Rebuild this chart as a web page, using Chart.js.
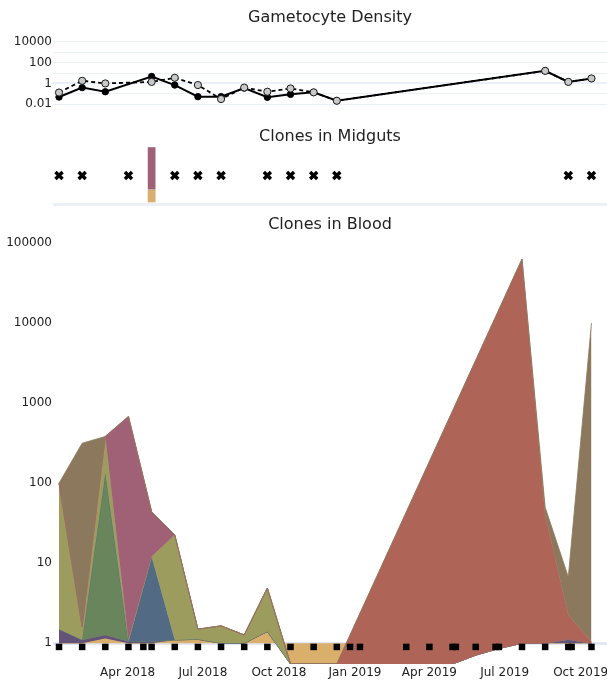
<!DOCTYPE html>
<html>
<head>
<meta charset="utf-8">
<script src="https://cdn.jsdelivr.net/npm/chart.js@4.4.1/dist/chart.umd.min.js"></script>
<style>
  html, body { margin: 0; padding: 0; background: #ffffff; }
  #wrap { position: relative; width: 607px; height: 684px; overflow: hidden; }
  #wrap canvas { position: absolute; left: 0; }
</style>
</head>
<body>
<div id="wrap">
  <canvas id="gam" width="607" height="110" style="top:0px"></canvas>
  <canvas id="gut" width="607" height="96" style="top:110px"></canvas>
  <canvas id="blood" width="607" height="478" style="top:206px"></canvas>
</div>
<script>
// ---------------- data ----------------

// Gametocyte density per visit (solid = filled markers, dashed = open markers)
const gamDates = ['2018-01-08','2018-02-05','2018-03-05','2018-04-30','2018-05-28','2018-06-25',
                  '2018-07-23','2018-08-20','2018-09-17','2018-10-15','2018-11-12','2018-12-10',
                  '2019-08-19','2019-09-16','2019-10-14'];
const gamSolid  = [0.05, 0.4, 0.16, 4.6, 0.7, 0.054, 0.054, 0.36, 0.047, 0.09, 0.14, 0.022, 16, 1.4, 3.0];
const gamDashed = [0.135, 1.8, 1.0, 1.4, 3.5, 0.7, 0.032, 0.4, 0.16, 0.33, 0.14, 0.022, 16, 1.4, 3.0];
const gamTicks      = [0.01, 0.1, 1, 10, 100, 1000, 10000];
const gamTickLabels = ['0.01', '', '1', '', '100', '', '10000'];

// Midgut results: visits with no clones, and the one positive visit with clone shares
const gutNegativeDates = ['2018-01-08','2018-02-05','2018-04-02','2018-05-28','2018-06-25','2018-07-23',
                          '2018-09-17','2018-10-15','2018-11-12','2018-12-10','2019-09-16','2019-10-14'];
const gutPositiveDate = '2018-04-30';
const gutShareTan   = 0.25;
const gutShareMauve = 0.75;

// Blood samples and clone densities (null = no clone data for that sample)
const bloodDates = ['2018-01-08','2018-02-05','2018-03-05','2018-04-02','2018-04-20','2018-04-30',
                    '2018-05-28','2018-06-25','2018-07-23','2018-08-20','2018-09-17','2018-10-15',
                    '2018-11-12','2018-12-10','2018-12-26','2019-01-07','2019-03-04','2019-04-01',
                    '2019-04-29','2019-05-03','2019-05-27','2019-06-20','2019-06-24','2019-07-22',
                    '2019-08-19','2019-09-16','2019-09-20','2019-10-14'];
const cloneTan    = [1.0, 1.0, 1.15, 1.0, null, 1.0, 1.1, 1.12, 1.0, 1.0, 1.4, 0, 0, 0,
                     0, 0, 0, 0, 0, null, 0.71, null, 0.86, 1.0, 1.0, 1.0, null, 1.0];
const clonePurple = [0.5, 0.1, 0.12, 0.05, null, 0.05, 0, 0, 0, 0, 0, 0, 0, 0,
                     0, 0, 0, 0, 0, null, 0, null, 0, 0, 0, 0.12, null, 0];
const cloneGreen  = [0, 0, 132, 0, null, 0, 0, 0, 0, 0, 0, 0, 0, 0,
                     0, 0, 0, 0, 0, null, 0, null, 0, 0, 0, 0, null, 0];
const cloneBlue   = [0, 0, 0, 0, null, 11, 0, 0, 0, 0, 0, 0, 0, 0,
                     0, 0, 0, 0, 0, null, 0, null, 0, 0, 0, 0, null, 0];
const cloneOlive  = [98.5, 0.5, 250, 0.05, null, 0, 21.5, 0.38, 0.65, 0.27, 3.5, 0, 0, 0,
                     0, 0, 0, 0, 0, null, 0, null, 0, 0, 0, 0, null, 0];
const cloneMauve  = [0, 0, 0, 679, null, 32, 0, 0, 0, 0, 0, 0, 0, 0,
                     0, 0, 0, 0, 0, null, 0, null, 0, 0, 0, 0, null, 0];
const cloneRed    = [0, 0, 0, 0, null, 0, 0, 0, 0, 0, 0, 0, 0, 0,
                     null, null, null, null, null, null, null, null, null, 63000, 39, 1.13, null, 0.05];
const cloneBrown  = [0, 314, 0, 0, null, 0, 0, 0, 0, 0, 0, 0, 0, 0,
                     null, null, null, null, null, null, null, null, null, 0, 10, 4.5, null, 10000];
const bloodTicks      = [1, 10, 100, 1000, 10000, 100000];
const bloodTickLabels = ['1', '10', '100', '1000', '10000', '100000'];

const monthTickDates  = ['2018-04-01','2018-07-01','2018-10-01','2019-01-01','2019-04-01','2019-07-01','2019-10-01'];
const monthTickLabels = ['Apr 2018','Jul 2018','Oct 2018','Jan 2019','Apr 2019','Jul 2019','Oct 2019'];

// ---------------- helpers & styles ----------------
const FONT = 'DejaVu Sans';
const INK = '#222222';
const GRID = '#EBF0F8';
const COLORS = {
  tan:    'rgb(217, 175, 107)',
  purple: 'rgb(98, 83, 119)',
  green:  'rgb(104, 133, 92)',
  blue:   'rgb(82, 106, 131)',
  olive:  'rgb(156, 156, 94)',
  mauve:  'rgb(160, 97, 119)',
  red:    'rgb(175, 100, 88)',
  brown:  'rgb(140, 120, 93)'
};

const DAY0 = Date.parse('2018-01-01');
const dayOf = s => (Date.parse(s) - DAY0) / 864e5;
const X_MIN = dayOf('2018-01-01') - 0.27;
const X_MAX = dayOf('2019-11-01') + 0.8;

Chart.defaults.font.family = FONT;
Chart.defaults.color = INK;

const common = {
  responsive: false,
  animation: false,
  devicePixelRatio: 1,
  events: [],
  layout: { padding: 0, autoPadding: false }
};

function titleOpts(text, padTop, padBottom) {
  return {
    display: true, text, fullSize: false, color: INK,
    font: { family: FONT, size: 16, weight: 'normal' },
    padding: { top: padTop, bottom: padBottom }
  };
}

function fixLeft(s) {
  s.width = 53;
  s.paddingTop = 0; s.paddingBottom = 0; s.paddingLeft = 0; s.paddingRight = 0;
}

const hiddenX = { type: 'linear', display: false, offset: false, min: X_MIN, max: X_MAX, bounds: 'data' };

// ---------------- Gametocyte Density ----------------
const gamDays = gamDates.map(dayOf);
new Chart(document.getElementById('gam'), {
  type: 'line',
  data: {
    datasets: [
      {
        data: gamDays.map((x, i) => ({ x, y: gamSolid[i] })),
        borderColor: '#000', borderWidth: 2, fill: false,
        pointRadius: 3.2, pointBackgroundColor: '#000', pointBorderColor: '#000', pointBorderWidth: 1
      },
      {
        data: gamDays.map((x, i) => ({ x, y: gamDashed[i] })),
        borderColor: '#000', borderWidth: 1.8, borderDash: [4, 3], fill: false, order: -1,
        pointRadius: 3.6, pointBackgroundColor: '#c8c8c8', pointBorderColor: '#1a1a1a', pointBorderWidth: 1
      }
    ]
  },
  options: Object.assign({}, common, {
    plugins: { legend: { display: false }, tooltip: { enabled: false },
               title: titleOpts('Gametocyte Density', 8.4, 8.4) },
    scales: {
      x: hiddenX,
      y: {
        type: 'logarithmic', bounds: 'data',
        min: Math.pow(10, -2.545), max: Math.pow(10, 4.545),
        afterFit: fixLeft,
        afterBuildTicks: s => { s.ticks = gamTicks.map(v => ({ value: v })); },
        ticks: { autoSkip: false, padding: 1, color: INK, font: { family: FONT, size: 12 },
                 callback: (v, i) => gamTickLabels[i] },
        grid: { color: GRID, drawTicks: false, lineWidth: c => (c.tick && c.tick.value === 1 ? 2 : 1) },
        border: { display: false }
      }
    }
  })
});

// ---------------- Clones in Midguts ----------------
const gutDay = dayOf(gutPositiveDate);
new Chart(document.getElementById('gut'), {
  type: 'scatter',
  data: {
    datasets: [
      {
        type: 'scatter', stack: 'marks', order: -1,
        data: gutNegativeDates.map(d => ({ x: dayOf(d), y: 0.5 })),
        pointStyle: 'crossRot', pointRadius: 5, pointBorderWidth: 3.4,
        pointBorderColor: '#000', pointBackgroundColor: '#000'
      },
      {
        type: 'bar', stack: 'gut', data: [{ x: gutDay, y: gutShareTan }],
        backgroundColor: COLORS.tan, borderColor: '#E5ECF6', borderWidth: 0.5,
        barThickness: 8
      },
      {
        type: 'bar', stack: 'gut', data: [{ x: gutDay, y: gutShareMauve }],
        backgroundColor: COLORS.mauve, borderColor: '#E5ECF6', borderWidth: 0.5,
        barThickness: 8
      }
    ]
  },
  options: Object.assign({}, common, {
    plugins: { legend: { display: false }, tooltip: { enabled: false },
               title: titleOpts('Clones in Midguts', 17.4, 0.4) },
    scales: {
      x: Object.assign({}, hiddenX, { stacked: true }),
      y: {
        type: 'linear', stacked: true, bounds: 'data', min: -0.035, max: 1,
        afterFit: fixLeft,
        afterBuildTicks: s => { s.ticks = [{ value: 0 }]; },
        ticks: { display: false },
        grid: { color: GRID, lineWidth: 3, drawTicks: false },
        border: { display: false }
      }
    }
  })
});

// ---------------- Clones in Blood ----------------
const bloodDays = bloodDates.map(dayOf);
const layers = [
  ['tan', cloneTan], ['purple', clonePurple], ['green', cloneGreen], ['blue', cloneBlue],
  ['olive', cloneOlive], ['mauve', cloneMauve], ['red', cloneRed], ['brown', cloneBrown]
];
// running totals so each clone sits on top of the ones below it
const runningTotal = bloodDays.map(() => 0);
const layerSets = layers.map(([name, vals], k) => {
  const pts = vals.map((v, i) => {
    if (v === null) return { x: bloodDays[i], y: null };
    runningTotal[i] += v;
    return { x: bloodDays[i], y: runningTotal[i] };
  });
  return {
    type: 'line', data: pts, parsing: false,
    backgroundColor: COLORS[name], borderColor: COLORS[name], borderWidth: 0.8,
    pointRadius: 0, tension: 0, spanGaps: true,
    fill: k === 0 ? { value: 1 } : '-1',
    order: -k
  };
});
const sampleMarks = {
  type: 'line', showLine: false, order: -100,
  data: bloodDays.map(x => ({ x, y: 0.9 })),
  pointStyle: 'rect', pointRadius: 4.6, pointBackgroundColor: '#000', pointBorderColor: '#000', pointBorderWidth: 0
};
const monthDays = monthTickDates.map(dayOf);

new Chart(document.getElementById('blood'), {
  type: 'line',
  data: { datasets: layerSets.concat([sampleMarks]) },
  options: Object.assign({}, common, {
    plugins: { legend: { display: false }, tooltip: { enabled: false },
               title: titleOpts('Clones in Blood', 9.4, 1.4) },
    scales: {
      x: {
        type: 'linear', min: X_MIN, max: X_MAX, bounds: 'data', offset: false,
        afterFit: s => { s.height = 20; s.paddingLeft = 0; s.paddingRight = 0; },
        afterBuildTicks: s => { s.ticks = monthDays.map(v => ({ value: v })); },
        ticks: { autoSkip: false, maxRotation: 0, padding: 2, color: INK, font: { family: FONT, size: 12 },
                 callback: (v, i) => monthTickLabels[i] },
        grid: { display: false, drawTicks: false },
        border: { display: false }
      },
      y: {
        type: 'logarithmic', bounds: 'data',
        min: Math.pow(10, -0.259), max: Math.pow(10, 5.0875),
        afterFit: fixLeft,
        afterBuildTicks: s => { s.ticks = bloodTicks.map(v => ({ value: v })); },
        ticks: { autoSkip: false, padding: 1, color: INK, font: { family: FONT, size: 12 },
                 callback: (v, i) => bloodTickLabels[i] },
        grid: { drawTicks: false, lineWidth: 3,
                color: c => (c.tick && c.tick.value === 1 ? '#E3E7F4' : 'rgba(0,0,0,0)') },
        border: { display: false }
      }
    }
  })
});
</script>
</body>
</html>
